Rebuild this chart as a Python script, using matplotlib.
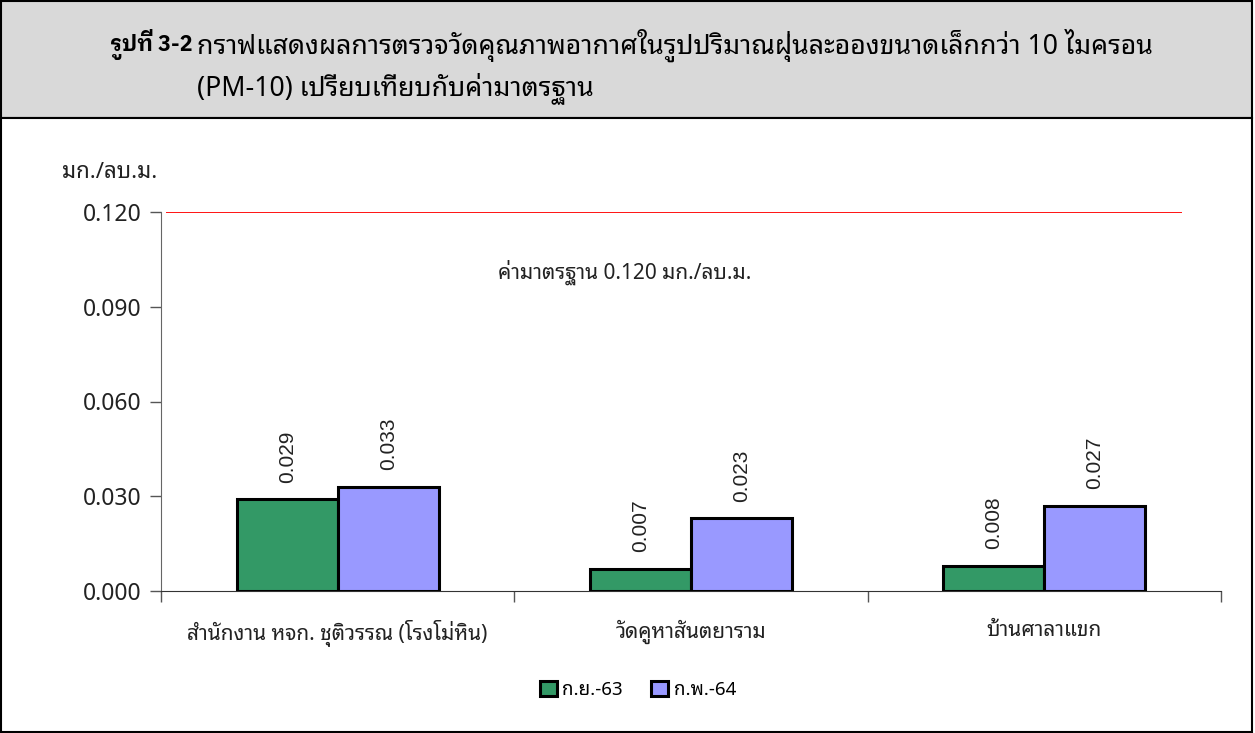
import matplotlib
matplotlib.use("Agg")
import matplotlib.pyplot as plt
import matplotlib.patches as patches
import numpy as np

# ข้อมูลจากกราฟ
stations = ['สำนักงาน หจก. ชุติวรรณ (โรงโม่หิน)', 'วัดคูหาสันตยาราม', 'บ้านศาลาแขก']
series_names = ['ก.ย.-63', 'ก.พ.-64']
sep_63 = [0.029, 0.007, 0.008]
feb_64 = [0.033, 0.023, 0.027]
standard = 0.120
yticks = [0.000, 0.030, 0.060, 0.090, 0.120]

FONT = ['Noto Sans Thai Looped', 'DejaVu Sans']
BOLD_FONT = ['IBM Plex Sans Thai Looped', 'DejaVu Sans']
plt.rcParams['font.family'] = FONT

fig = plt.figure(figsize=(12.55, 7.33), dpi=100)

# กรอบหัวเรื่องสีเทา และกรอบกราฟ
fig.patches.append(patches.Rectangle((0.001, 0.839), 0.997, 0.16, transform=fig.transFigure,
                                     facecolor='#d9d9d9', edgecolor='black', linewidth=1.5,
                                     zorder=-5))
fig.patches.append(patches.Rectangle((0.001, 0.001), 0.997, 0.838, transform=fig.transFigure,
                                     facecolor='white', edgecolor='black', linewidth=1.5,
                                     zorder=-5))

fig.text(110 / 1255, 1 - 45 / 733, 'รูปที่ 3-2', fontsize=15.5, fontweight='bold', va='center',
         family=BOLD_FONT)
fig.text(197 / 1255, 1 - 45 / 733,
         'กราฟแสดงผลการตรวจวัดคุณภาพอากาศในรูปปริมาณฝุ่นละอองขนาดเล็กกว่า 10 ไมครอน',
         fontsize=19.2, va='center')
fig.text(197 / 1255, 1 - 88 / 733, '(PM-10) เปรียบเทียบกับค่ามาตรฐาน', fontsize=19.2,
         va='center')

ax = fig.add_axes([161 / 1255, 142 / 733, 1060 / 1255, 379 / 733])
x = np.arange(len(stations))
w = 0.286
b1 = ax.bar(x - w / 2, sep_63, w, color='#339966', edgecolor='black', linewidth=2.2,
            label=series_names[0], zorder=3)
b2 = ax.bar(x + w / 2, feb_64, w, color='#9999ff', edgecolor='black', linewidth=2.2,
            label=series_names[1], zorder=3)

for bars, vals in [(b1, sep_63), (b2, feb_64)]:
    for rect, v in zip(bars, vals):
        ax.annotate('%.3f' % v, (rect.get_x() + rect.get_width() / 2, v),
                    xytext=(0, 12), textcoords='offset points', rotation=90,
                    ha='center', va='bottom', fontsize=15, color='#222222',
                    family=['Liberation Sans', 'DejaVu Sans'])

ax.hlines(standard, -0.486, 2.39, colors='red', linewidth=1.3, zorder=2)
ax.text(0.812, 0.101, 'ค่ามาตรฐาน 0.120 มก./ลบ.ม.', ha='center', va='center', fontsize=15,
        color='#222222')

ax.set_xlim(-0.5, 2.5)
ax.set_ylim(0, 0.12)
ax.set_yticks(yticks)
ax.set_yticklabels(['%.3f' % t for t in yticks])
ax.tick_params(axis='y', length=8, width=1, color='#555555', labelsize=16.5, pad=6,
               labelcolor='#222222')

# เส้นแบ่งหมวดหมู่แกน x
ax.set_xticks(np.arange(-0.5, 2.6, 1.0))
ax.set_xticklabels([])
ax.set_xticks(x, minor=True)
ax.set_xticklabels(stations, minor=True)
ax.tick_params(axis='x', which='major', length=8, width=1, color='#555555', direction='out')
ax.tick_params(axis='x', which='minor', length=0, labelsize=15, pad=21, labelcolor='#222222')

for s in ['top', 'right']:
    ax.spines[s].set_visible(False)
ax.spines['left'].set_color('#666666')
ax.spines['bottom'].set_color('#333333')

fig.text(62 / 1255, 1 - 172 / 733, 'มก./ลบ.ม.', fontsize=16, va='center', color='#222222')

fig.legend(handles=[b1, b2], loc='center', bbox_to_anchor=(638 / 1255, 1 - 690 / 733), ncol=2,
           frameon=False, fontsize=13.5, handlelength=0.9, handleheight=0.9, handletextpad=0.3,
           columnspacing=1.5)

fig.savefig('out.png', dpi=100)
